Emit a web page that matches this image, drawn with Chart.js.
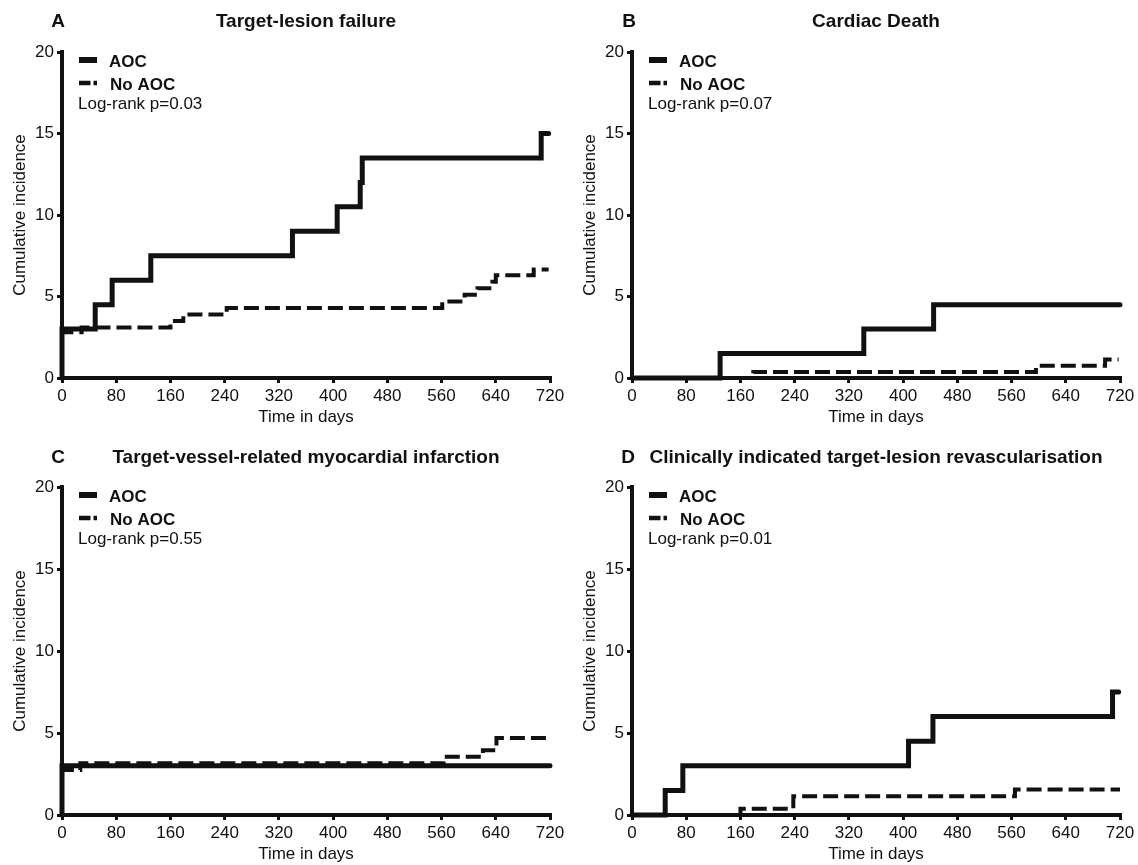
<!DOCTYPE html>
<html>
<head>
<meta charset="utf-8">
<script src="https://cdn.jsdelivr.net/npm/chart.js@4.4.1/dist/chart.umd.min.js"></script>
<style>
  html, body { margin: 0; padding: 0; background: #fff; }
  #page { position: relative; width: 1138px; height: 865px; overflow: hidden; }
  .panel { position: absolute; }
  .panel canvas { display: block; }
</style>
</head>
<body>
<div id="page">
  <div class="panel" style="left:0;top:0;width:569px;height:432px"><canvas id="panelA" width="569" height="432"></canvas></div>
  <div class="panel" style="left:569px;top:0;width:569px;height:432px"><canvas id="panelB" width="569" height="432"></canvas></div>
  <div class="panel" style="left:0;top:432px;width:569px;height:433px"><canvas id="panelC" width="569" height="433"></canvas></div>
  <div class="panel" style="left:569px;top:432px;width:569px;height:433px"><canvas id="panelD" width="569" height="433"></canvas></div>
</div>
<script>
// x ticks (days) and y ticks (cumulative incidence, %)
const dayTicks = [0, 80, 160, 240, 320, 400, 480, 560, 640, 720];
const incidenceTicks = [0, 5, 10, 15, 20];
const seriesLabels = ['AOC', 'No AOC'];

// A - target-lesion failure
const tlfAocDays = [0, 0, 49, 74, 131, 340, 406, 440, 443, 707, 718];
const tlfAocInc  = [0, 3.0, 4.5, 6.0, 7.5, 9.0, 10.5, 12.0, 13.5, 15.0, 15.0];
const tlfNoDays  = [0, 0, 29, 160, 179, 243, 561, 594, 613, 635, 640, 696, 718];
const tlfNoInc   = [0, 2.8, 3.1, 3.5, 3.9, 4.3, 4.7, 5.1, 5.5, 5.9, 6.3, 6.65, 6.65];

// B - cardiac death
const cdAocDays = [0, 130, 342, 445, 720];
const cdAocInc  = [0, 1.5, 3.0, 4.5, 4.5];
const cdNoDays  = [0, 179, 596, 698, 718];
const cdNoInc   = [0, 0.37, 0.75, 1.13, 1.13];

// C - target-vessel MI
const miAocDays = [0, 0, 720];
const miAocInc  = [0, 3.0, 3.0];
const miNoDays  = [0, 0, 27, 563, 621, 641, 720];
const miNoInc   = [0, 2.75, 3.15, 3.55, 3.95, 4.7, 4.7];

// D - clinically indicated TLR
const tlrAocDays = [0, 49, 75, 408, 444, 709, 718];
const tlrAocInc  = [0, 1.5, 3.0, 4.5, 6.0, 7.5, 7.5];
const tlrNoDays  = [0, 160, 238, 565, 720];
const tlrNoInc   = [0, 0.38, 1.15, 1.55, 1.55];

const FONT = '"Liberation Sans", Arial, Helvetica, sans-serif';
const INK = '#111';

Chart.defaults.font.family = FONT;
Chart.defaults.font.size = 17;
Chart.defaults.color = INK;

const toPoints = (days, inc) => days.map((d, i) => ({ x: d, y: inc[i] }));

// titles, panel letter, legend and p-value drawn on top of the chart
const panelDecor = {
  id: 'panelDecor',
  afterDraw(chart, args, opts) {
    const { ctx, chartArea } = chart;
    const left = chartArea.left;
    const top = chartArea.top;
    const mid = (chartArea.left + chartArea.right) / 2;
    const sets = chart.data.datasets;

    ctx.save();
    ctx.fillStyle = INK;
    ctx.strokeStyle = INK;
    ctx.textBaseline = 'alphabetic';

    ctx.font = 'bold 19px ' + FONT;
    ctx.textAlign = 'center';
    ctx.fillText(opts.letter, opts.letterX, opts.titleBaseline);
    ctx.fillText(opts.title, mid, opts.titleBaseline);

    // legend samples
    ctx.lineCap = 'butt';
    ctx.lineWidth = 6;
    ctx.beginPath();
    ctx.moveTo(left + 17, top + 8);
    ctx.lineTo(left + 35, top + 8);
    ctx.stroke();

    ctx.lineWidth = 4.5;
    ctx.setLineDash([11.5, 3, 3.5, 40]);
    ctx.beginPath();
    ctx.moveTo(left + 17, top + 31);
    ctx.lineTo(left + 35, top + 31);
    ctx.stroke();
    ctx.setLineDash([]);

    ctx.textAlign = 'left';
    ctx.font = 'bold 17px ' + FONT;
    ctx.fillText(sets[0].label, left + 47, top + 14.5);
    ctx.fillText(sets[1].label, left + 48, top + 37.5);

    ctx.font = '17px ' + FONT;
    ctx.fillText('Log-rank p=' + opts.pValue, left + 16, top + 57);
    ctx.restore();
  }
};

function renderPanel(canvasId, spec) {
  const canvas = document.getElementById(canvasId);
  if (!canvas) return;

  new Chart(canvas, {
    type: 'line',
    data: {
      datasets: [
        {
          label: seriesLabels[0],
          data: toPoints(spec.aocDays, spec.aocInc),
          borderColor: INK,
          borderWidth: 5,
          stepped: 'before',
          pointRadius: 0,
          borderCapStyle: 'round',
          borderJoinStyle: 'miter',
          clip: false,
        },
        {
          label: seriesLabels[1],
          data: toPoints(spec.noDays, spec.noInc),
          borderColor: INK,
          borderWidth: 4,
          borderDash: [15, 6],
          stepped: 'before',
          pointRadius: 0,
          borderCapStyle: 'butt',
          borderJoinStyle: 'miter',
          clip: false,
        },
      ],
    },
    options: {
      responsive: false,
      animation: false,
      events: [],
      layout: {
        padding: { left: 0, top: spec.padTop, right: spec.padRight, bottom: 0 },
      },
      plugins: {
        legend: { display: false },
        tooltip: { enabled: false },
        panelDecor: {
          letter: spec.letter,
          letterX: spec.letterX,
          title: spec.title,
          titleBaseline: spec.titleBaseline,
          pValue: spec.pValue,
        },
      },
      scales: {
        x: {
          type: 'linear',
          min: dayTicks[0],
          max: dayTicks[dayTicks.length - 1],
          afterFit: (scale) => { scale.height = spec.xAxisHeight; },
          afterBuildTicks: (scale) => { scale.ticks = dayTicks.map((v) => ({ value: v })); },
          ticks: { autoSkip: false, maxRotation: 0, padding: 3, color: INK, font: { size: 17 } },
          grid: { drawOnChartArea: false, drawTicks: true, tickLength: 5, lineWidth: 3, color: INK },
          border: { display: true, width: 4, color: INK },
          title: {
            display: true,
            text: 'Time in days',
            color: INK,
            font: { size: 17 },
            padding: { top: 0, bottom: spec.xTitlePad },
          },
        },
        y: {
          type: 'linear',
          min: incidenceTicks[0],
          max: incidenceTicks[incidenceTicks.length - 1],
          afterFit: (scale) => { scale.width = spec.yAxisWidth; },
          afterBuildTicks: (scale) => { scale.ticks = incidenceTicks.map((v) => ({ value: v })); },
          ticks: { padding: 3, color: INK, font: { size: 17 } },
          grid: { drawOnChartArea: false, drawTicks: true, tickLength: 5, lineWidth: 3, color: INK },
          border: { display: true, width: 4, color: INK },
          title: {
            display: true,
            text: 'Cumulative incidence',
            color: INK,
            font: { size: 17 },
            padding: { top: spec.yTitlePad, bottom: 0 },
          },
        },
      },
    },
    plugins: [panelDecor],
  });
}

renderPanel('panelA', {
  letter: 'A', letterX: 58, title: 'Target-lesion failure', titleBaseline: 27, pValue: '0.03',
  aocDays: tlfAocDays, aocInc: tlfAocInc, noDays: tlfNoDays, noInc: tlfNoInc,
  padTop: 52, padRight: 19, yAxisWidth: 62, xAxisHeight: 54, xTitlePad: 4, yTitlePad: 10,
});
renderPanel('panelB', {
  letter: 'B', letterX: 60, title: 'Cardiac Death', titleBaseline: 27, pValue: '0.07',
  aocDays: cdAocDays, aocInc: cdAocInc, noDays: cdNoDays, noInc: cdNoInc,
  padTop: 52, padRight: 18, yAxisWidth: 63, xAxisHeight: 54, xTitlePad: 4, yTitlePad: 11,
});
renderPanel('panelC', {
  letter: 'C', letterX: 58, title: 'Target-vessel-related myocardial infarction', titleBaseline: 31, pValue: '0.55',
  aocDays: miAocDays, aocInc: miAocInc, noDays: miNoDays, noInc: miNoInc,
  padTop: 55, padRight: 19, yAxisWidth: 62, xAxisHeight: 50, xTitlePad: 0, yTitlePad: 10,
});
renderPanel('panelD', {
  letter: 'D', letterX: 59, title: 'Clinically indicated target-lesion revascularisation', titleBaseline: 31, pValue: '0.01',
  aocDays: tlrAocDays, aocInc: tlrAocInc, noDays: tlrNoDays, noInc: tlrNoInc,
  padTop: 55, padRight: 18, yAxisWidth: 63, xAxisHeight: 50, xTitlePad: 0, yTitlePad: 11,
});
</script>
</body>
</html>
